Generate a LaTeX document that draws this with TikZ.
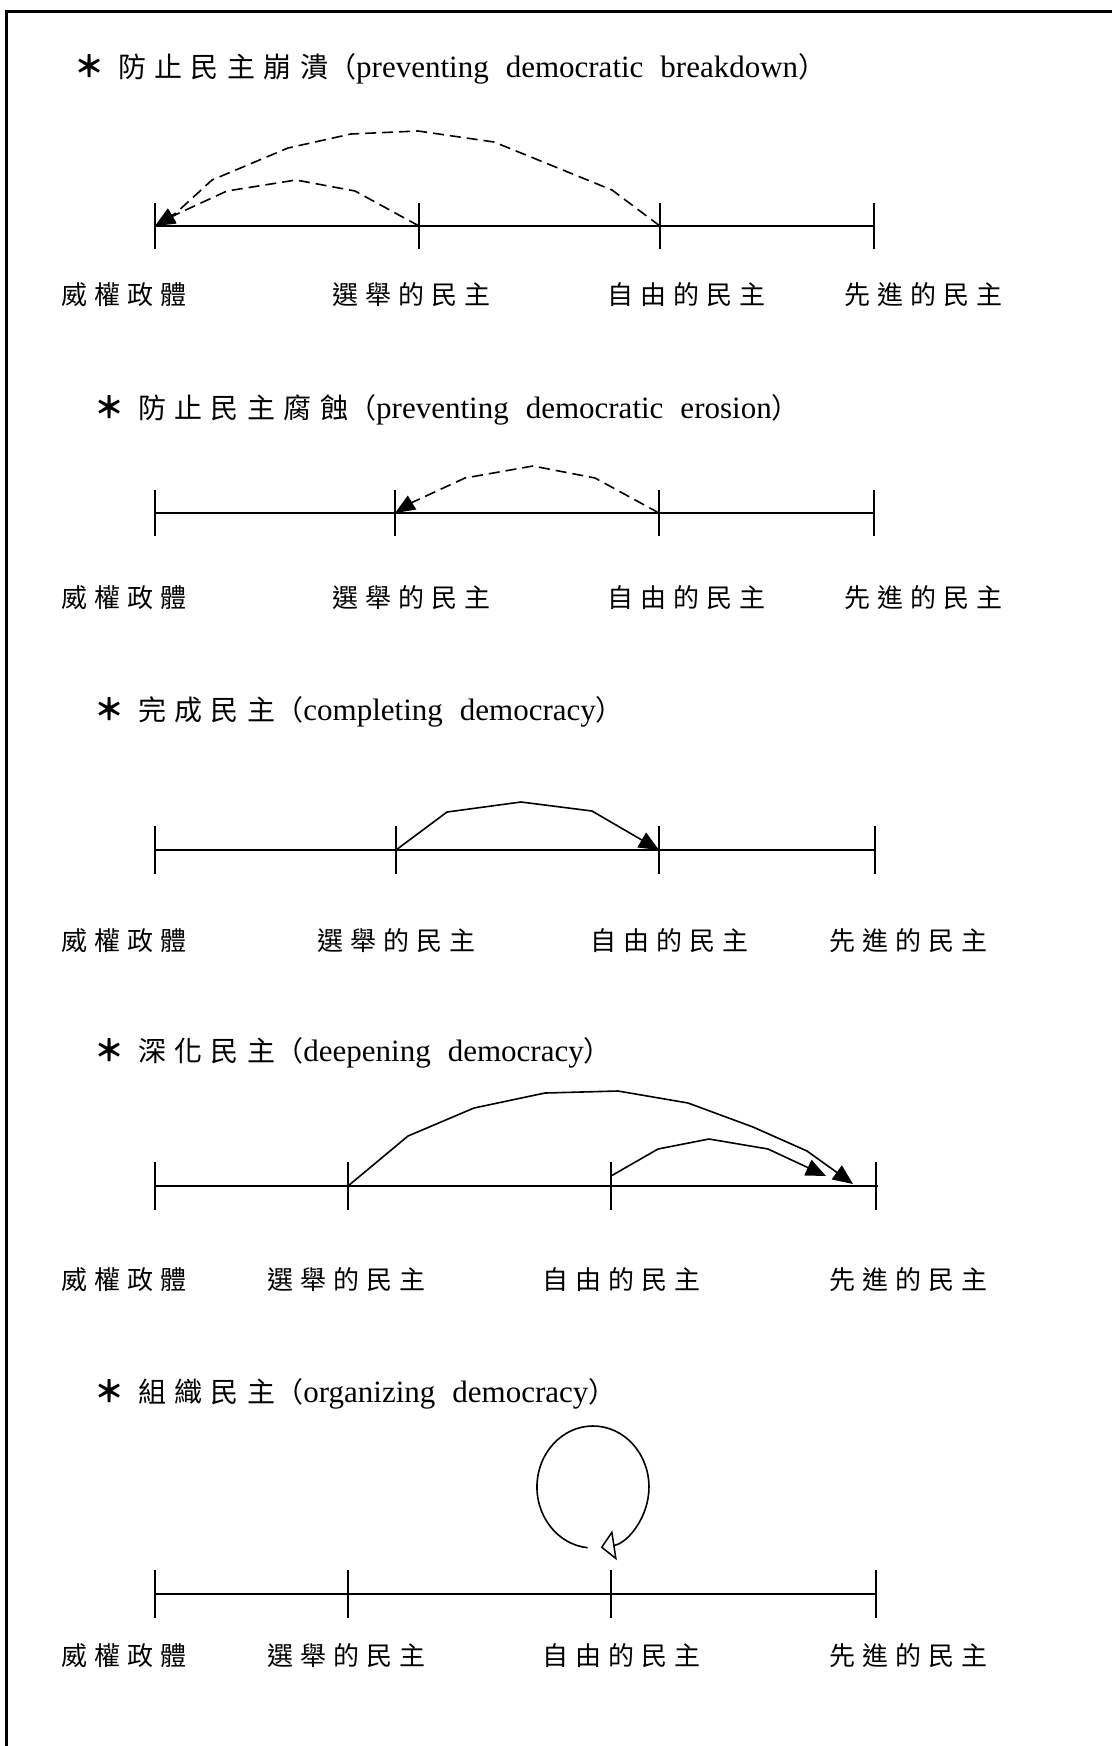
\documentclass[tikz,border=0pt]{standalone}
\usepackage{fontspec}
\setmainfont{Liberation Serif}
\newfontfamily\cjklabel[LetterSpace=27]{Noto Sans CJK TC}
\newfontfamily\cjkhead[LetterSpace=30]{Noto Sans CJK TC}
\newfontfamily\cjkplain{Noto Sans CJK TC}
\usetikzlibrary{arrows.meta}

% heading: star, Chinese title, English gloss in full-width parentheses
\newcommand\sectionhead[2]{%
  {\cjkplain\bfseries\fontsize{30}{30}\selectfont ＊}\hspace{14pt}%
  {\cjkhead\fontsize{28}{30}\selectfont #1}%
  {\cjkplain\fontsize{28}{30}\selectfont （}%
  {\fontsize{31}{32}\selectfont\spaceskip=17pt plus 2pt #2}%
  {\cjkplain\fontsize{28}{30}\selectfont ）}}

\tikzset{
  axisline/.style={line width=1.8pt},
  headtext/.style={anchor=west, inner sep=0pt},
  stagetext/.style={anchor=west, inner sep=0pt, font=\cjklabel\fontsize{26}{28}\selectfont},
  backarrow/.style={line width=1.6pt, dash pattern=on 11pt off 6pt,
    -{Triangle[length=20pt,width=16pt]}},
  fwdarrow/.style={line width=1.6pt, -{Triangle[length=20pt,width=17pt]}},
  looparrow/.style={line width=1.6pt, -{Triangle[open,length=14pt,width=30pt,line width=1.5pt]}},
}

\begin{document}
\begin{tikzpicture}[x=1pt,y=-1pt]
\useasboundingbox (0,0) rectangle (1112,1746);

% frame
\draw[line width=3pt] (6,1746) -- (6,11) -- (1112,11);

% ---------- 1: breakdown ----------
\node[headtext] (h1) at (74,69) {\sectionhead{防止民主崩潰}{preventing democratic breakdown}};
\coordinate (a1) at (155,226);
\coordinate (b1) at (419,226);
\coordinate (c1) at (660,226);
\coordinate (d1) at (874,226);
\draw[axisline] (a1) -- (d1);
\foreach \p in {a1,b1,c1,d1}
  \draw[axisline] ([yshift=23pt]\p) -- ([yshift=-23pt]\p);
\draw[backarrow] (c1) -- (612,190) -- (494,142) -- (418,131) -- (351,134)
  -- (288,148) -- (212,180) -- (176,213) -- (a1);
\draw[backarrow] (b1) -- (355,191) -- (296,180) -- (227,191) -- (177,214) -- (a1);
\node[stagetext] (l1a) at (61,295) {威權政體};
\node[stagetext] (l1b) at (332,295) {選舉的民主};
\node[stagetext] (l1c) at (607,295) {自由的民主};
\node[stagetext] (l1d) at (844,295) {先進的民主};

% ---------- 2: erosion ----------
\node[headtext] (h2) at (94,410) {\sectionhead{防止民主腐蝕}{preventing democratic erosion}};
\coordinate (a2) at (155,513);
\coordinate (b2) at (395,513);
\coordinate (c2) at (659,513);
\coordinate (d2) at (874,513);
\draw[axisline] (a2) -- (d2);
\foreach \p in {a2,b2,c2,d2}
  \draw[axisline] ([yshift=23pt]\p) -- ([yshift=-23pt]\p);
\draw[backarrow] (c2) -- (595,478) -- (533,466) -- (465,478) -- (413,502) -- (b2);
\node[stagetext] (l2a) at (61,598) {威權政體};
\node[stagetext] (l2b) at (332,598) {選舉的民主};
\node[stagetext] (l2c) at (607,598) {自由的民主};
\node[stagetext] (l2d) at (844,598) {先進的民主};

% ---------- 3: completing ----------
\node[headtext] (h3) at (94,712) {\sectionhead{完成民主}{completing democracy}};
\coordinate (a3) at (155,850);
\coordinate (b3) at (396,850);
\coordinate (c3) at (659,850);
\coordinate (d3) at (875,850);
\draw[axisline] (a3) -- (d3);
\foreach \p in {a3,b3,c3,d3}
  \draw[axisline] ([yshift=24pt]\p) -- ([yshift=-24pt]\p);
\draw[fwdarrow] (b3) -- (447,812) -- (521,802) -- (592,811) -- (c3);
\node[stagetext] (l3a) at (61,941) {威權政體};
\node[stagetext] (l3b) at (317,941) {選舉的民主};
\node[stagetext] (l3c) at (590,941) {自由的民主};
\node[stagetext] (l3d) at (829,941) {先進的民主};

% ---------- 4: deepening ----------
\node[headtext] (h4) at (94,1053) {\sectionhead{深化民主}{deepening democracy}};
\coordinate (a4) at (155,1186);
\coordinate (b4) at (348,1186);
\coordinate (c4) at (611,1186);
\coordinate (d4) at (876,1186);
\coordinate (e4) at (853,1184);
\coordinate (f4) at (611,1176);
\coordinate (g4) at (826,1176);
\draw[axisline] (a4) -- ([xshift=2pt]d4);
\foreach \p in {a4,b4,c4,d4}
  \draw[axisline] ([yshift=24pt]\p) -- ([yshift=-24pt]\p);
\draw[fwdarrow] (b4) -- (408,1136) -- (474,1108) -- (545,1093) -- (618,1091)
  -- (688,1103) -- (753,1127) -- (807,1151) -- (e4);
\draw[fwdarrow] (f4) -- (658,1149) -- (709,1139) -- (768,1149) -- (g4);
\node[stagetext] (l4a) at (61,1280) {威權政體};
\node[stagetext] (l4b) at (267,1280) {選舉的民主};
\node[stagetext] (l4c) at (542,1280) {自由的民主};
\node[stagetext] (l4d) at (829,1280) {先進的民主};

% ---------- 5: organizing ----------
\node[headtext] (h5) at (94,1394) {\sectionhead{組織民主}{organizing democracy}};
\coordinate (a5) at (155,1594);
\coordinate (b5) at (348,1594);
\coordinate (c5) at (611,1594);
\coordinate (d5) at (876,1594);
\draw[axisline] (a5) -- (d5);
\foreach \p in {a5,b5,c5,d5}
  \draw[axisline] ([yshift=24pt]\p) -- ([yshift=-24pt]\p);
\coordinate (loopstart) at (587.6,1547.7);
\draw[looparrow] (loopstart) arc[start angle=95.5, end angle=442, x radius=56, y radius=61];
\node[stagetext] (l5a) at (61,1656) {威權政體};
\node[stagetext] (l5b) at (267,1656) {選舉的民主};
\node[stagetext] (l5c) at (542,1656) {自由的民主};
\node[stagetext] (l5d) at (829,1656) {先進的民主};
\end{tikzpicture}
\end{document}
